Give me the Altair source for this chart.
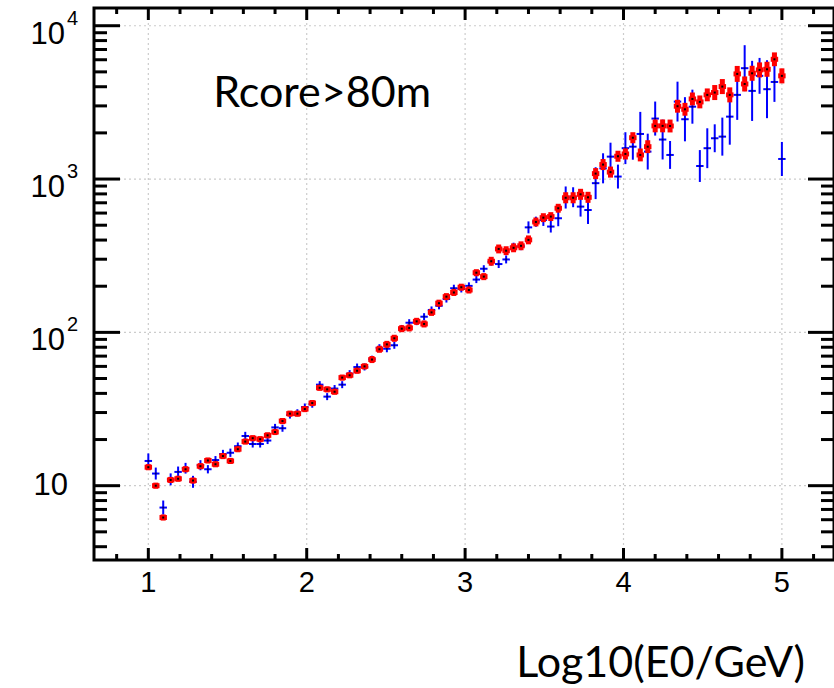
import altair as alt
import pandas as pd

# ---- data ----
x_bins = [1.000, 1.047, 1.094, 1.141, 1.188, 1.235, 1.282, 1.329, 1.376, 1.424,
          1.471, 1.518, 1.565, 1.612, 1.659, 1.706, 1.753, 1.800, 1.847, 1.894,
          1.941, 1.988, 2.035, 2.082, 2.129, 2.176, 2.224, 2.271, 2.318, 2.365,
          2.412, 2.459, 2.506, 2.553, 2.600, 2.647, 2.694, 2.741, 2.788, 2.835,
          2.882, 2.929, 2.976, 3.024, 3.071, 3.118, 3.165, 3.212, 3.259, 3.306,
          3.353, 3.400, 3.447, 3.494, 3.541, 3.588, 3.635, 3.682, 3.729, 3.776,
          3.824, 3.871, 3.918, 3.965, 4.012, 4.059, 4.106, 4.153, 4.200, 4.247,
          4.294, 4.341, 4.388, 4.435, 4.482, 4.529, 4.576, 4.624, 4.671, 4.718,
          4.765, 4.812, 4.859, 4.906, 4.953, 5.000]

red_y = [13.2, 10.0, 6.2, 10.9, 11.1, 12.8, 10.8, 13.4, 14.6, 13.8,
         15.6, 14.5, 17.3, 19.4, 20.4, 20.1, 21.3, 22.4, 26.4, 29.5,
         29.5, 31.6, 34.6, 43.5, 42.5, 41.0, 50.7, 52.5, 56.2, 60.0,
         66.5, 77.6, 83.5, 91.5, 105.7, 106.9, 118, 113.5, 135, 155,
         171, 182, 197, 189, 245, 231, 291, 350, 341, 356,
         367, 401, 525, 560, 569, 645, 755, 755, 795, 760,
         1085, 1243, 1110, 1408, 1458, 1860, 1436, 1626, 2222, 2222,
         2218, 2985, 2851, 3330, 3185, 3540, 3666, 4010, 3540, 4850,
         4170, 4896, 5150, 5200, 6040, 4710]

# half error bar, in decades
red_err = [0.020, 0.020, 0.020, 0.020, 0.020, 0.020, 0.020, 0.020, 0.020, 0.020,
           0.020, 0.020, 0.020, 0.020, 0.020, 0.020, 0.020, 0.020, 0.020, 0.020,
           0.020, 0.020, 0.020, 0.020, 0.020, 0.020, 0.020, 0.020, 0.020, 0.020,
           0.023, 0.023, 0.023, 0.023, 0.023, 0.023, 0.023, 0.023, 0.023, 0.023,
           0.023, 0.023, 0.023, 0.023, 0.023, 0.023, 0.029, 0.029, 0.029, 0.029,
           0.029, 0.029, 0.029, 0.029, 0.029, 0.029, 0.036, 0.036, 0.036, 0.036,
           0.036, 0.036, 0.036, 0.036, 0.036, 0.036, 0.042, 0.042, 0.042, 0.042,
           0.042, 0.042, 0.042, 0.042, 0.042, 0.042, 0.049, 0.049, 0.049, 0.052,
           0.049, 0.049, 0.049, 0.049, 0.045, 0.049]

blue_y = [14.5, 12.0, 7.2, 11.0, 12.3, 13.0, 10.6, 13.6, 12.8, 14.7,
          16.1, 16.4, 18.1, 21.1, 18.7, 18.7, 19.7, 24.0, 23.7, 28.9,
          29.9, 32.6, 34.0, 45.6, 38.1, 43.0, 45.6, 53.8, 59.4, 59.5,
          66.8, 79.4, 78.2, 82.4, 106, 115.6, 117.5, 126.5, 140, 149,
          165, 194, 192, 201, 221, 260, 289, 279, 299, 362,
          365, 484, 527, 541, 490, 555, 758, 761, 661, 628,
          940, 1175, 1400, 1038, 1590, 1626, 1968, 1510, 2480, 1810,
          1436, 3200, 2455, 2965, 1216, 1589, 1845, 1891, 2553, 3540,
          5285, 3758, 4710, 3855, 4298, 1352]

blue_err = [0.049, 0.039, 0.046, 0.039, 0.035, 0.035, 0.039, 0.033, 0.027, 0.026,
            0.027, 0.027, 0.024, 0.027, 0.023, 0.023, 0.023, 0.023, 0.023, 0.023,
            0.023, 0.023, 0.023, 0.023, 0.023, 0.023, 0.023, 0.023, 0.023, 0.023,
            0.023, 0.023, 0.023, 0.023, 0.023, 0.023, 0.023, 0.023, 0.023, 0.023,
            0.023, 0.023, 0.023, 0.023, 0.023, 0.023, 0.026, 0.026, 0.026, 0.026,
            0.026, 0.039, 0.033, 0.039, 0.039, 0.052, 0.072, 0.065, 0.065, 0.091,
            0.104, 0.098, 0.091, 0.078, 0.104, 0.085, 0.144, 0.117, 0.111, 0.130,
            0.091, 0.130, 0.144, 0.111, 0.104, 0.130, 0.091, 0.124, 0.183, 0.163,
            0.150, 0.196, 0.117, 0.189, 0.130, 0.111]

x_major = [1, 2, 3, 4, 5]
x_major_labels = ["1", "2", "3", "4", "5"]
x_minor = [0.8, 1.2, 1.4, 1.6, 1.8, 2.2, 2.4, 2.6, 2.8, 3.2, 3.4, 3.6, 3.8,
           4.2, 4.4, 4.6, 4.8, 5.2]
y_major = [10, 100, 1000, 10000]
y_minor = [4, 5, 6, 7, 8, 9, 20, 30, 40, 50, 60, 70, 80, 90,
           200, 300, 400, 500, 600, 700, 800, 900,
           2000, 3000, 4000, 5000, 6000, 7000, 8000, 9000]
y_label_base = ["10", "10", "10", "10"]
y_label_sup = ["", "2", "3", "4"]
note_text = "Rcore>80m"
x_title = "Log10(E0/GeV)"

HALF_BIN = 0.0235
W, H = 740, 552
XDOM = [0.657, 5.329]
YDOM = [3.276, 13050]

rows = []
for i in range(len(x_bins)):
    rows.append(dict(
        x=x_bins[i], xl=x_bins[i] - HALF_BIN, xr=x_bins[i] + HALF_BIN,
        ry=red_y[i], rlo=red_y[i] / 10 ** red_err[i], rhi=red_y[i] * 10 ** red_err[i],
        by=blue_y[i], blo=blue_y[i] / 10 ** blue_err[i], bhi=blue_y[i] * 10 ** blue_err[i],
    ))
df = pd.DataFrame(rows)

xs = alt.Scale(domain=XDOM, nice=False, zero=False)
ys = alt.Scale(type="log", domain=YDOM, nice=False)


def xenc(f):
    return alt.X(f, scale=xs, axis=None)


def yenc(f):
    return alt.Y(f, scale=ys, axis=None)


base = alt.Chart(df)

ymaj_df = pd.DataFrame({"v": y_major})
ymin_df = pd.DataFrame({"v": y_minor})
xmaj_df = pd.DataFrame({"v": x_major, "lab": x_major_labels})
xmin_df = pd.DataFrame({"v": x_minor})

GRID = dict(color="#cccccc", strokeWidth=1.2, strokeDash=[2, 3])
grid_layers = [
    alt.Chart(xmaj_df).mark_rule(**GRID).encode(
        x=xenc("v:Q"), y=alt.value(0), y2=alt.value(H)),
    alt.Chart(ymaj_df).mark_rule(**GRID).encode(
        y=yenc("v:Q"), x=alt.value(0), x2=alt.value(W)),
]

# inward ticks on all four sides
TK = dict(color="black", strokeWidth=3)
tick_layers = [
    alt.Chart(ymaj_df).mark_rule(**TK).encode(
        y=yenc("v:Q"), x=alt.value(0), x2=alt.value(26)),
    alt.Chart(ymin_df).mark_rule(**TK).encode(
        y=yenc("v:Q"), x=alt.value(0), x2=alt.value(13)),
    alt.Chart(ymaj_df).mark_rule(**TK).encode(
        y=yenc("v:Q"), x=alt.value(W - 26), x2=alt.value(W)),
    alt.Chart(ymin_df).mark_rule(**TK).encode(
        y=yenc("v:Q"), x=alt.value(W - 13), x2=alt.value(W)),
    alt.Chart(xmaj_df).mark_rule(**TK).encode(
        x=xenc("v:Q"), y=alt.value(H), y2=alt.value(H - 12)),
    alt.Chart(xmin_df).mark_rule(**TK).encode(
        x=xenc("v:Q"), y=alt.value(H), y2=alt.value(H - 6)),
    alt.Chart(xmaj_df).mark_rule(**TK).encode(
        x=xenc("v:Q"), y=alt.value(0), y2=alt.value(12)),
    alt.Chart(xmin_df).mark_rule(**TK).encode(
        x=xenc("v:Q"), y=alt.value(0), y2=alt.value(6)),
]

blue_v = base.mark_rule(color="#0000ff", strokeWidth=2).encode(
    x=xenc("x:Q"), y=yenc("blo:Q"), y2="bhi:Q")
blue_h = base.mark_rule(color="#0000ff", strokeWidth=2).encode(
    x=xenc("xl:Q"), x2="xr:Q", y=yenc("by:Q"))
blue_dot = base.mark_square(color="#000060", size=3, opacity=1).encode(
    x=xenc("x:Q"), y=yenc("by:Q"))

red_v = base.mark_rule(color="#ff0000", strokeWidth=5).encode(
    x=xenc("x:Q"), y=yenc("rlo:Q"), y2="rhi:Q")
red_h = base.mark_rule(color="#ff0000", strokeWidth=5).encode(
    x=xenc("xl:Q"), x2="xr:Q", y=yenc("ry:Q"))
red_dot = base.mark_square(color="black", size=4, opacity=1).encode(
    x=xenc("x:Q"), y=yenc("ry:Q"))

# x tick labels and title
xlab = alt.Chart(xmaj_df).mark_text(
    align="center", baseline="top", font="Liberation Sans", fontSize=29,
    color="black").encode(x=xenc("v:Q"), y=alt.value(H + 9), text="lab:N")
title_df = pd.DataFrame({"t": [x_title]})
xtitle = alt.Chart(title_df).mark_text(
    align="right", baseline="alphabetic", font="Lato", fontSize=43,
    color="black").encode(x=alt.value(711), y=alt.value(H + 117), text="t:N")

# y tick labels (10, 10^2, 10^3, 10^4)
ylab_df = pd.DataFrame({"v": y_major, "base": y_label_base, "sup": y_label_sup})
ylab_plain = alt.Chart(ylab_df).transform_filter("datum.v == 10").mark_text(
    align="right", baseline="middle", font="Liberation Sans", fontSize=31,
    color="black").encode(y=yenc("v:Q"), x=alt.value(-26), text="base:N")
ylab_pow = alt.Chart(ylab_df).transform_filter("datum.v > 10").mark_text(
    align="right", baseline="middle", font="Liberation Sans", fontSize=31,
    color="black", dy=9).encode(y=yenc("v:Q"), x=alt.value(-29), text="base:N")
ylab_sup = alt.Chart(ylab_df).transform_filter("datum.v > 10").mark_text(
    align="left", baseline="middle", font="Liberation Sans", fontSize=20,
    color="black", dy=-7).encode(y=yenc("v:Q"), x=alt.value(-27), text="sup:N")

note_df = pd.DataFrame({"x": [1.41], "y": [2950], "t": [note_text]})
note = alt.Chart(note_df).mark_text(
    align="left", baseline="alphabetic", font="Lato", fontSize=43,
    color="black").encode(x=xenc("x:Q"), y=yenc("y:Q"), text="t:N")

chart = alt.layer(
    *grid_layers, *tick_layers, blue_v, blue_h, blue_dot, red_v, red_h, red_dot,
    xlab, xtitle, ylab_plain, ylab_pow, ylab_sup, note
).properties(
    width=W, height=H,
    padding={"left": 94, "top": 8, "right": 0, "bottom": 128},
    autosize=alt.AutoSizeParams(type="none"),
    background="white",
).configure_view(stroke="black", strokeWidth=3)

chart.save("out.html", embed_options={"renderer": "svg", "actions": False})
